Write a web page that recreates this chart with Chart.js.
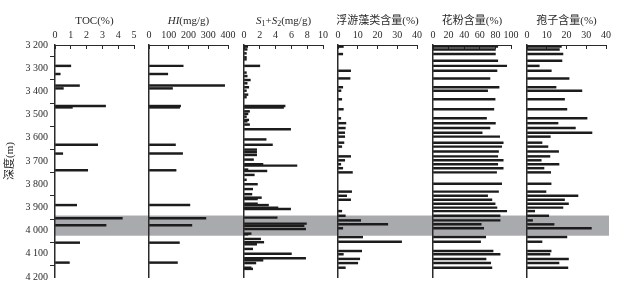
<!DOCTYPE html>
<html>
<head>
<meta charset="utf-8">
<script src="https://cdn.jsdelivr.net/npm/chart.js@4.4.1/dist/chart.umd.min.js"></script>
<style>
  html, body { margin: 0; padding: 0; background: #fff; }
  #wrap { position: relative; width: 626px; height: 289px; }
  #wrap canvas { position: absolute; left: 0; top: 0; }
</style>
</head>
<body>
<div id="wrap"></div>
<script>
// depth axis (m)
const depthMin = 3200;
const depthMax = 4200;
const bandTop = 3935;
const bandBottom = 4022;

// TOC and HI samples
const tocDepths = [3290, 3325, 3375, 3387, 3463, 3469, 3630, 3668, 3740, 3890, 3947, 3977, 4052, 4138];
const tocValues = [1.0, 0.33, 1.55, 0.53, 3.2, 1.1, 2.7, 0.49, 2.07, 1.37, 4.26, 3.23, 1.56, 0.91];
const hiValues = [173, 95, 383, 119, 160, 155, 134, 170, 137, 207, 288, 217, 154, 144];

// S1+S2 samples
const s12Depths = [3207, 3219, 3236, 3253, 3262, 3290, 3319, 3334, 3351, 3365,
  3382, 3397, 3414, 3425, 3463, 3469, 3486, 3497, 3509, 3523,
  3529, 3543, 3563, 3607, 3630, 3651, 3662, 3674, 3694, 3714,
  3720, 3737, 3743, 3760, 3781, 3800, 3821, 3843, 3858, 3864,
  3884, 3890, 3901, 3907, 3944, 3970, 3979, 3993, 4013, 4016,
  4036, 4050, 4059, 4079, 4100, 4119, 4128, 4140, 4160, 4165];
const s12Values = [0.47, 0.4, 0.3, 0.3, 0.3, 2.0, 0.3, 0.4, 0.8, 0.4,
  0.6, 0.3, 0.5, 0.3, 5.2, 5.0, 0.7, 0.5, 0.3, 0.6,
  0.4, 0.7, 5.9, 2.8, 3.6, 1.6, 1.6, 1.6, 1.2, 2.4,
  6.7, 0.5, 2.9, 1.3, 0.3, 1.7, 1.1, 1.0, 2.2, 1.7,
  1.7, 3.1, 4.3, 5.9, 4.2, 7.9, 7.6, 7.8, 0.9, 0.5,
  2.1, 2.5, 1.6, 1.1, 6.0, 7.8, 2.4, 1.5, 0.9, 1.1];

// palynology samples
const palyDepths = [3207, 3219, 3239, 3268, 3290, 3311, 3344, 3382, 3397, 3434,
  3477, 3516, 3537, 3558, 3578, 3595, 3621, 3638, 3659, 3680,
  3697, 3714, 3731, 3749, 3798, 3832, 3850, 3867, 3884, 3901,
  3916, 3936, 3956, 3973, 3990, 4028, 4048, 4088, 4102, 4122,
  4140, 4160];
const planktonValues = [2.7, 0, 2.4, 0, 0, 6.4, 6.1, 2.4, 1.5, 1.9,
  2.7, 1.4, 4.0, 3.7, 3.4, 3.4, 3.0, 1.9, 0, 6.4,
  3.4, 1.4, 2.4, 7.3, 0, 6.9, 4.4, 6.4, 0, 0,
  1.9, 3.7, 11.5, 25.2, 2.4, 12.5, 32.2, 12, 2.7, 11.0,
  10.0, 3.7];
const pollenValues = [83, 80, 80, 83, 94.5, 82, 73, 84.7, 70, 79.6,
  78, 68.6, 80, 73, 63, 85.5, 90, 88, 84, 83,
  90, 83, 90, 81.5, 88, 84, 70, 75.5, 79.6, 82,
  94.5, 86, 86, 61.8, 65, 67.6, 61, 77, 86, 68,
  74, 75.5];
const sporeValues = [17.4, 16.4, 18.2, 17.7, 6.2, 12.3, 21.3, 14.7, 27.8, 19,
  20.2, 30.4, 15.7, 24.5, 32.9, 11.8, 7.6, 10.6, 16, 11.6,
  7.2, 16.2, 8.6, 12, 12.2, 9.6, 25.8, 19, 21, 18.2,
  3.9, 11, 2.8, 13.7, 32.6, 20.2, 7.6, 12.2, 11.6, 21,
  16.2, 20.7];

// panel placement on the page
const panelLeft = [55, 149, 244, 338, 433, 527];
const panelRight = [134, 228, 323, 417, 511, 606];

const serif = "'Liberation Serif', 'Times New Roman', serif";
const cjk = "'Liberation Serif', 'Noto Sans CJK SC', serif";
const ink = '#2a2a2a';
const barColor = '#1c1c1c';
const bandColor = '#a9aaad';

const panels = [
  { depths: tocDepths, values: tocValues, max: 5, step: 1, title: [{ t: 'TOC(%)' }] },
  { depths: tocDepths, values: hiValues, max: 400, step: 100, title: [{ t: 'HI', it: true }, { t: '(mg/g)' }] },
  { depths: s12Depths, values: s12Values, max: 10, step: 2,
    title: [{ t: 'S', it: true }, { t: '1', sub: true }, { t: '+' }, { t: 'S', it: true }, { t: '2', sub: true }, { t: '(mg/g)' }] },
  { depths: palyDepths, values: planktonValues, max: 40, step: 10, title: [{ t: '浮游藻类含量(%)', cjk: true }] },
  { depths: palyDepths, values: pollenValues, max: 100, step: 20, title: [{ t: '花粉含量(%)', cjk: true }] },
  { depths: palyDepths, values: sporeValues, max: 40, step: 10, title: [{ t: '孢子含量(%)', cjk: true }] }
];

function partFont(p) {
  const size = p.sub ? 8 : 11;
  return (p.it ? 'italic ' : '') + size + 'px ' + (p.cjk ? cjk : serif);
}

const titlePlugin = {
  id: 'panelTitle',
  afterDraw(chart, args, opts) {
    const ctx = chart.ctx;
    const parts = opts.parts || [];
    let total = 0;
    parts.forEach(p => {
      ctx.font = partFont(p);
      p.w = ctx.measureText(p.t).width;
      total += p.w;
    });
    let x = (chart.chartArea.left + chart.chartArea.right) / 2 - total / 2;
    ctx.save();
    ctx.fillStyle = ink;
    ctx.textBaseline = 'alphabetic';
    parts.forEach(p => {
      ctx.font = partFont(p);
      ctx.fillText(p.t, x, p.sub ? 26 : 24);
      x += p.w;
    });
    ctx.restore();
  }
};

const bandPlugin = {
  id: 'band',
  beforeDraw(chart, args, opts) {
    if (!opts.on) return;
    const y = chart.scales.y;
    const top = y.getPixelForValue(bandTop);
    const bottom = y.getPixelForValue(bandBottom);
    const ctx = chart.ctx;
    ctx.save();
    ctx.fillStyle = bandColor;
    ctx.fillRect(chart.chartArea.left, top, panelRight[5] + 3 - chart.chartArea.left, bottom - top);
    ctx.restore();
  }
};

const wrap = document.getElementById('wrap');

panels.forEach((p, i) => {
  const canvas = document.createElement('canvas');
  canvas.width = 626;
  canvas.height = 289;
  wrap.appendChild(canvas);

  const first = i === 0;
  const yScale = {
    type: 'linear',
    min: depthMin,
    max: depthMax,
    reverse: true,
    offset: false,
    border: { display: true, color: ink, width: 1.5 },
    afterFit: s => { s.width = first ? 55 : 0; }
  };
  if (first) {
    yScale.ticks = {
      stepSize: 100, padding: 2, color: ink,
      font: { family: serif, size: 10 },
      callback: v => String(v).replace(/(\d)(\d{3})$/, '$1 $2')
    };
    yScale.grid = { drawOnChartArea: false, tickLength: 5, color: ink };
    yScale.title = { display: true, text: '深度(m)', color: ink, padding: { top: 4, bottom: 0 }, font: { family: cjk, size: 11 } };
  } else {
    yScale.ticks = { display: false };
    yScale.grid = { drawOnChartArea: false, drawTicks: false, color: ink };
  }

  new Chart(canvas, {
    type: 'bar',
    data: {
      datasets: [{
        data: p.depths.map((d, j) => ({ x: p.values[j], y: d })).filter(o => o.x > 0),
        backgroundColor: barColor,
        borderWidth: 0,
        barThickness: 1.8,
        grouped: false
      }]
    },
    options: {
      indexAxis: 'y',
      responsive: false,
      animation: false,
      events: [],
      layout: { padding: { left: first ? 0 : panelLeft[i], right: 626 - panelRight[i], top: 0, bottom: 12 } },
      plugins: {
        legend: { display: false },
        tooltip: { enabled: false },
        panelTitle: { parts: p.title },
        band: { on: first }
      },
      scales: {
        x: {
          type: 'linear',
          position: 'top',
          min: 0,
          max: p.max,
          ticks: { stepSize: p.step, padding: 8, color: ink, maxRotation: 0, autoSkip: false, font: { family: serif, size: 10 } },
          grid: { drawOnChartArea: false, tickLength: -4, color: ink },
          border: { display: true, color: ink, width: 1 },
          afterFit: s => { s.height = 45; }
        },
        y: yScale
      }
    },
    plugins: [titlePlugin, bandPlugin]
  });
});
</script>
</body>
</html>
